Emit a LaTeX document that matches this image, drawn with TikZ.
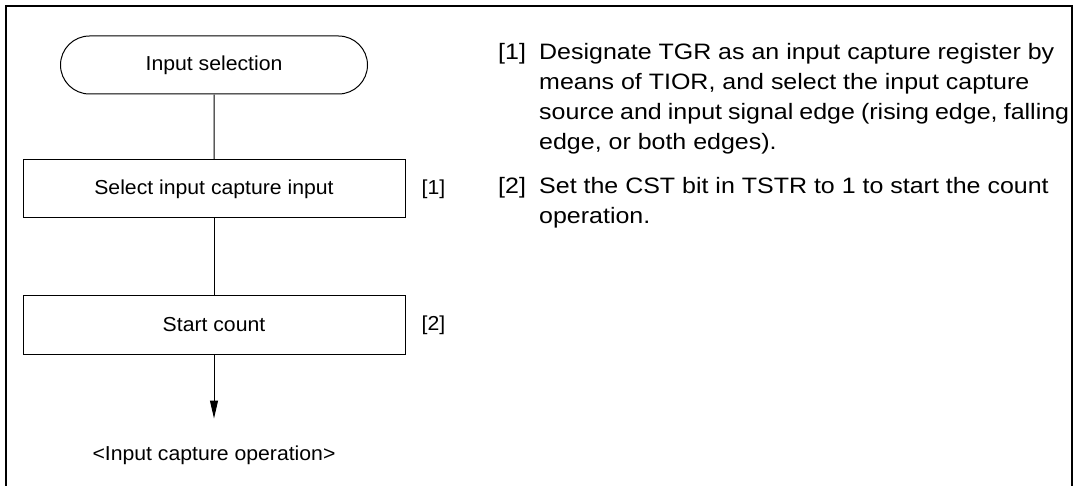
\documentclass[tikz,border=0pt]{standalone}
\usepackage{fontspec}
\setmainfont{Liberation Sans}[FakeStretch=1.05]
\newfontfamily\notefont{Liberation Sans}[FakeStretch=1.12]
\usetikzlibrary{arrows.meta,positioning,shapes.misc}

\begin{document}
\begin{tikzpicture}[x=1pt, y=1pt,
  flowbox/.style={draw, line width=1pt, minimum width=382pt, minimum height=58pt,
                  inner sep=0pt, font=\fontsize{20.2}{24}\selectfont},
  terminal/.style={flowbox, rounded rectangle, minimum width=307pt},
  steptag/.style={inner sep=0pt, font=\fontsize{20.2}{24}\selectfont},
  notetext/.style={inner sep=0pt, anchor=base west,
                   font=\notefont\fontsize{22.3}{29.7}\selectfont},
]
\useasboundingbox (0,0) rectangle (1076,-486);

% outer frame, open at the bottom
\draw[line width=2pt] (5.5,-495) |- (1072,-6.5) -- (1072,-495);

% flow
\node[terminal] (sel) at (214,-65) {Input selection};
\node[flowbox, below=65pt of sel] (capin) {Select input capture input};
\node[flowbox, below=77pt of capin] (start) {Start count};
\coordinate[below=64pt of start] (tip);
\node[steptag, below=27pt of tip] (op) {<Input capture operation>};

\draw[line width=1pt] (sel) -- (capin);
\draw[line width=1pt] (capin) -- (start);
\draw[line width=1pt, -{Triangle[length=18pt, width=8pt]}] (start) -- (tip);

\node[steptag, right=16pt of capin] (tag1) {[1]};
\node[steptag, right=16pt of start] (tag2) {[2]};

% notes
\node[notetext] (num1) at (498,-60) {[1]};
\node[notetext] (note1) at (539,-60) {\parbox[t]{530pt}{Designate TGR as an input capture register by\\
  means of TIOR, and select the input capture\\
  source and input signal edge (rising edge, falling\\
  edge, or both edges).}};
\node[notetext] (num2) at (498,-194) {[2]};
\node[notetext] (note2) at (539,-194) {\parbox[t]{530pt}{Set the CST bit in TSTR to 1 to start the count\\
  operation.}};

\end{tikzpicture}
\end{document}
